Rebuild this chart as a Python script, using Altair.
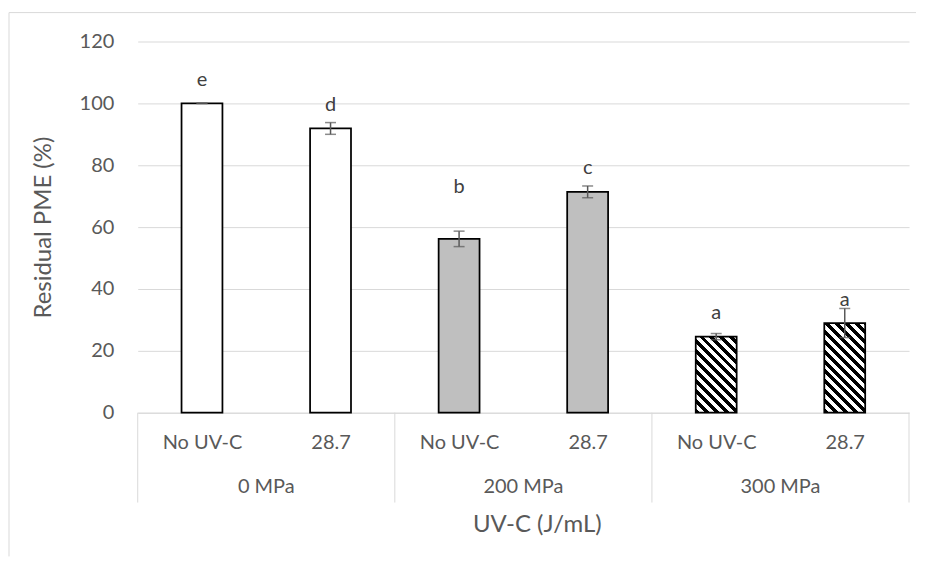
import altair as alt
import pandas as pd
import numpy as np

# ---- data ----
groups = ["0 MPa", "0 MPa", "200 MPa", "200 MPa", "300 MPa", "300 MPa"]
doses = ["No UV-C", "28.7", "No UV-C", "28.7", "No UV-C", "28.7"]
values = [100.0, 91.9, 56.2, 71.4, 24.6, 29.0]
errors = [0.0, 1.9, 2.5, 1.9, 1.0, 4.7]
letters = ["e", "d", "b", "c", "a", "a"]
letter_y = [105.5, 97.4, 71.0, 77.1, 30.3, 34.5]
group_names = ["0 MPa", "200 MPa", "300 MPa"]
y_ticks = [0, 20, 40, 60, 80, 100, 120]

# ---- layout / style ----
W, H = 773, 372
YMAX = 120
BAR_PX = 41
FONT = "Lato"
GRID = "#d9d9d9"
TXT = "#595959"

n = len(values)
df = pd.DataFrame({
    "pos": [i + 0.5 for i in range(n)],
    "group": groups,
    "dose": doses,
    "value": values,
    "err": errors,
    "lo": [v - e for v, e in zip(values, errors)],
    "hi": [v + e for v, e in zip(values, errors)],
    "letter": letters,
    "letter_y": letter_y,
    "idx": list(range(n)),
})

xscale = alt.Scale(domain=[0, n], nice=False, zero=False, padding=0)
yscale = alt.Scale(domain=[0, YMAX], nice=False)

label_expr = "[" + ",".join("'%s'" % d for d in doses) + "][floor(datum.value)]"

x_enc = alt.X(
    "pos:Q", scale=xscale,
    axis=alt.Axis(values=list(df["pos"]), labelExpr=label_expr, ticks=False, tickSize=0,
                  grid=False, domainColor=GRID, domainWidth=1,
                  labelFontSize=20, labelColor=TXT, labelPadding=20, labelFlush=False,
                  labelOverlap=False,
                  title="UV-C (J/mL)", titleFontSize=24, titleFontWeight="normal",
                  titleColor=TXT, titlePadding=60, titleX=400),
)
y_enc = alt.Y(
    "value:Q", scale=yscale,
    axis=alt.Axis(values=y_ticks, grid=True, gridColor=GRID, gridWidth=1, domain=False,
                  ticks=False, labelFontSize=20, labelColor=TXT, labelPadding=24,
                  title="Residual PME (%)", titleFontSize=24, titleFontWeight="normal",
                  titleColor=TXT, titlePadding=24),
)

base = alt.Chart(df)

plain = base.transform_filter(alt.datum.group != "300 MPa").mark_bar(
    size=BAR_PX, stroke="black", strokeWidth=1.75
).encode(
    x=x_enc, y=y_enc,
    fill=alt.Fill("group:N", scale=alt.Scale(domain=group_names[:2], range=["#ffffff", "#bfbfbf"]),
                  legend=None),
)


def hatch(value, period=7.0, frac=0.5):
    h = value * H / YMAX
    w = BAR_PX
    k = h / w
    s = (1 + k) / (1 + k * k)
    span = (w + h) / np.sqrt(2)
    m = span / period
    stops = []
    i = 0
    while i < m:
        a = i / m
        b = min((i + frac) / m, 1.0)
        c = min((i + 1) / m, 1.0)
        stops += [(a, "black"), (b, "black"), (b, "white"), (c, "white")]
        i += 1
    return alt.LinearGradient(
        gradient="linear",
        stops=[alt.GradientStop(offset=float(o), color=col) for o, col in stops],
        x1=0, y1=1, x2=float(s), y2=float(1 - k * s),
    )


hatched_layers = []
for i in range(n):
    if groups[i] == "300 MPa":
        hatched_layers.append(
            base.transform_filter(alt.datum.idx == i).mark_bar(
                size=BAR_PX, stroke="black", strokeWidth=1.75, fill=hatch(values[i])
            ).encode(x="pos:Q", y="value:Q")
        )

err_rule = base.mark_rule(color="#595959", strokeWidth=1.5).encode(
    x="pos:Q", y="lo:Q", y2="hi:Q"
)
cap_hi = base.mark_tick(orient="horizontal", size=11, thickness=1.5, color="#595959").encode(
    x="pos:Q", y="hi:Q"
)
cap_lo = base.mark_tick(orient="horizontal", size=11, thickness=1.5, color="#595959").encode(
    x="pos:Q", y="lo:Q"
)

letter_text = base.mark_text(fontSize=20, color="#404040", baseline="alphabetic",
                             align="center").encode(
    x="pos:Q", y="letter_y:Q", text="letter:N"
)

sep_df = pd.DataFrame({"x": [0, 2, 4, 6]})
separators = alt.Chart(sep_df).mark_rule(color=GRID, strokeWidth=1).encode(
    x=alt.X("x:Q"), y=alt.value(H), y2=alt.value(H + 90)
)

grp_df = pd.DataFrame({"x": [1, 3, 5], "g": group_names})
group_text = alt.Chart(grp_df).mark_text(fontSize=20, color=TXT, baseline="middle").encode(
    x="x:Q", y=alt.value(H + 74), text="g:N"
)

one = pd.DataFrame({"a": [0]})
border_top = alt.Chart(one).mark_rule(color=GRID, strokeWidth=1).encode(
    x=alt.value(-129), x2=alt.value(780), y=alt.value(-29)
)
border_left = alt.Chart(one).mark_rule(color=GRID, strokeWidth=1).encode(
    x=alt.value(-129), y=alt.value(-29), y2=alt.value(516)
)

chart = alt.layer(
    border_top, border_left, plain, *hatched_layers, err_rule, cap_hi, cap_lo,
    letter_text, separators, group_text
).properties(
    width=W, height=H,
    padding={"left": 0, "top": 3, "right": 0, "bottom": 0},
).configure(font=FONT).configure_view(strokeWidth=0)

chart.save("out.html", embed_options={"renderer": "svg", "actions": False})
